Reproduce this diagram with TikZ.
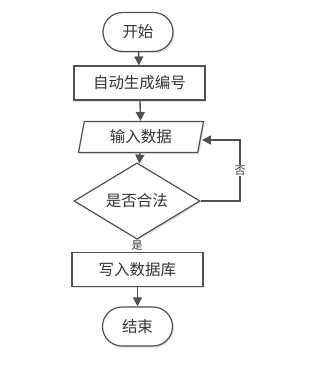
\documentclass[tikz,border=0pt]{standalone}
\usepackage{fontspec}
\setmainfont{Liberation Serif}
\newfontfamily\cjk{Noto Sans CJK SC}
\usetikzlibrary{shapes.geometric,shapes.misc,arrows.meta,shadows}
\definecolor{linec}{HTML}{505050}
\definecolor{txtc}{HTML}{333333}
\definecolor{shadowc}{HTML}{E0E0E0}
\tikzset{
  base/.style={draw=linec, line width=1.2pt, fill=white, text=txtc,
    font=\cjk\fontsize{15.5}{17}\selectfont, inner sep=0pt,
    drop shadow={shadow xshift=1.5pt, shadow yshift=-1.5pt, fill=shadowc, opacity=1}},
  term/.style={base, rounded rectangle, minimum width=70pt, minimum height=39pt},
  proc/.style={base, rectangle, minimum width=131pt, minimum height=34pt},
  io/.style={base, trapezium, trapezium left angle=68, trapezium right angle=112,
    trapezium stretches body, minimum width=125pt, minimum height=31pt},
  decide/.style={base, diamond, minimum width=126pt, minimum height=44pt},
  conn/.style={draw=linec, line width=1.4pt, -{Triangle[length=9pt,width=9pt]}},
  smallconn/.style={draw=linec, line width=1.2pt, -{Triangle[length=4pt,width=4pt]}},
  lbl/.style={fill=white, text=txtc, font=\cjk\fontsize{11}{12}\selectfont, inner sep=1pt}
}
\begin{document}
\begin{tikzpicture}[x=1pt,y=-1pt]
\useasboundingbox (0,0) rectangle (315,368);
\node[term] (start) at (138,32) {开始};
\node[proc] (gen) at (139.5,83) {自动生成编号};
\node[io] (in) at (141,137) {输入数据};
\node[decide] (dec) at (137,201) {是否合法};
\node[proc] (db) at (137.5,269.5) {写入数据库};
\node[term] (end) at (137.5,326.5) {结束};
\coordinate (r1) at (240,201);
\coordinate (r2) at (240,140);
\coordinate (r3) at (202,140);
\draw[conn] (start) -- (gen);
\draw[conn] (gen) -- (in);
\draw[conn] (in) -- (dec);
\draw[smallconn] (dec.south) -- node[lbl, pos=0.5] {是} (db.north);
\draw[conn] (dec.east) -- (r1) -- node[lbl, pos=0.5] {否} (r2) -- (r3);
\draw[conn] (db) -- (end);
\end{tikzpicture}
\end{document}
